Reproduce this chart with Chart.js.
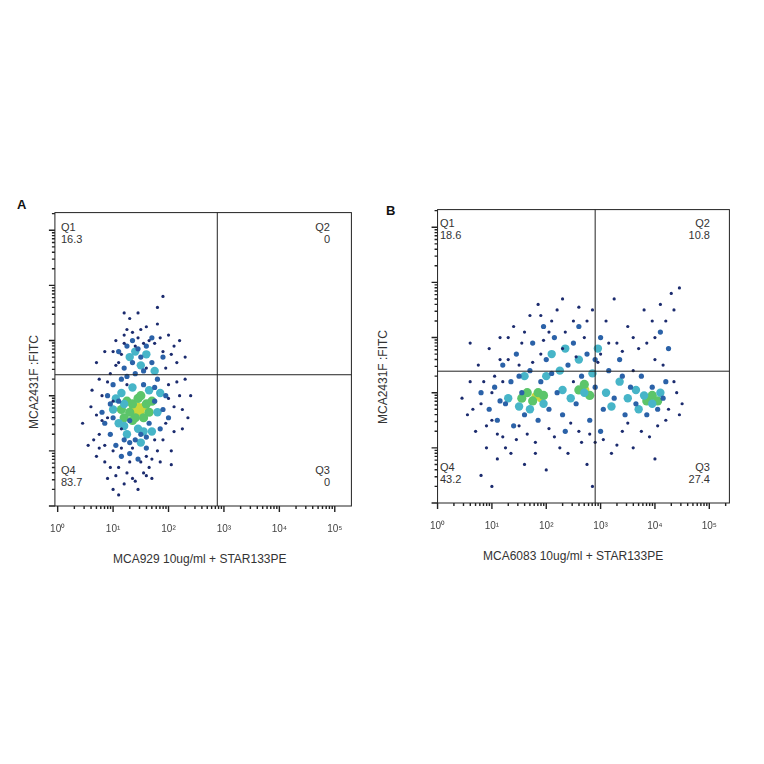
<!DOCTYPE html>
<html>
<head>
<meta charset="utf-8">
<script src="https://cdn.jsdelivr.net/npm/chart.js@4"></script>
<style>
  body { margin: 0; background: #fff; font-family: "Liberation Sans", Arial, sans-serif; color: #333; }
  .box { position: absolute; }
  .t { position: absolute; font-size: 11px; white-space: nowrap; }
  .r { text-align: right; }
</style>
</head>
<body>
<div class="t" style="left:17px;top:197px;font-weight:bold;font-size:13px;color:#111">A</div>
<div class="t" style="left:386px;top:203px;font-weight:bold;font-size:13px;color:#111">B</div>
<div class="t" style="left:-13px;top:375px;transform:rotate(-90deg);font-size:12px">MCA2431F :FITC</div>
<div class="t" style="left:336px;top:370px;transform:rotate(-90deg);font-size:12px">MCA2431F :FITC</div>
<div class="t" style="left:113px;top:552px;font-size:12px">MCA929 10ug/ml + STAR133PE</div>
<div class="t" style="left:483px;top:549px;font-size:12px">MCA6083 10ug/ml + STAR133PE</div>

<div class="t" style="left:61px;top:221px">Q1<br>16.3</div>
<div class="t r" style="left:300px;top:221px;width:30px">Q2<br>0</div>
<div class="t" style="left:61px;top:464px">Q4<br>83.7</div>
<div class="t r" style="left:300px;top:464px;width:30px">Q3<br>0</div>

<div class="t" style="left:440px;top:217px">Q1<br>18.6</div>
<div class="t r" style="left:680px;top:217px;width:30px">Q2<br>10.8</div>
<div class="t" style="left:440px;top:461px">Q4<br>43.2</div>
<div class="t r" style="left:680px;top:461px;width:30px">Q3<br>27.4</div>

<div class="box" style="left:41px;top:208px;width:315px;height:328px"><canvas id="chartA"></canvas></div>
<div class="box" style="left:421px;top:205px;width:313px;height:328px"><canvas id="chartB"></canvas></div>

<script>
const decadeLabels = ['10⁰', '10¹', '10²', '10³', '10⁴', '10⁵'];
const gateA = [2.88, 2.38];
const gateB = [2.9, 2.39];

const aNavy = '0.45,1.5 0.55,1.1 0.6,1.8 0.62,2.1 0.7,0.9 0.75,1.3 0.8,2.0 0.85,2.8 0.9,0.5 0.9,1.6 0.95,2.4 1.0,0.3 1.0,1.0 1.05,3.0 1.1,0.7 1.1,2.6 1.15,1.4 1.2,0.4 1.2,3.1 1.25,2.2 1.3,0.8 1.3,3.4 1.35,0.5 1.4,2.9 1.45,0.3 1.5,3.2 1.55,0.6 1.6,0.9 1.6,2.5 1.65,3.0 1.7,0.5 1.75,1.2 1.8,3.3 1.85,0.8 1.9,2.8 1.95,1.5 2.0,3.1 2.0,2.2 2.05,1.0 2.1,1.8 2.15,2.6 2.2,3.0 2.25,1.4 2.3,2.3 2.4,2.0 1.9,3.8 1.8,3.6 1.2,3.5 0.7,2.6 0.65,1.2 1.0,2.8 1.45,3.5 1.75,2.95 2.1,2.9 0.85,0.8 1.1,0.2 1.35,1.05 1.65,0.7 1.0,1.9 0.8,1.55 2.2,2.0 2.35,1.6 1.55,2.95 1.25,3.2 ' +
  '0.7,1.65 0.75,2.3 0.85,1.1 0.95,0.7 1.05,0.55 1.15,2.75 1.25,0.6 1.35,3.15 1.4,0.45 1.5,0.8 1.6,3.25 1.7,0.85 1.8,1.0 1.9,1.2 1.95,2.5 2.05,2.75 2.1,1.35 2.15,2.25 2.25,1.75 2.3,2.7 1.05,2.55 0.9,2.25 0.75,1.05 1.15,1.05 1.2,2.95 1.45,3.05 1.6,0.55 1.85,3.05 2.0,1.95 2.05,0.75';
const aBlue = '0.8,1.7 0.9,2.0 0.95,1.3 1.0,1.6 1.0,2.2 1.05,1.1 1.1,2.8 1.1,1.9 1.15,0.9 1.2,2.5 1.2,1.2 1.25,2.9 1.3,1.55 1.3,0.95 1.35,2.6 1.4,1.2 1.4,2.4 1.45,0.85 1.5,2.7 1.5,1.3 1.55,2.2 1.6,1.05 1.6,2.9 1.65,1.5 1.7,2.6 1.75,1.9 1.8,2.3 1.85,1.4 1.9,2.7 1.95,2.0 2.0,1.6 1.7,3.05 1.35,3.0 1.45,2.85 1.15,2.3 0.95,1.85 0.85,1.5 1.25,2.35 1.55,2.45 1.75,2.15 1.9,1.75 1.3,1.15 1.6,1.25';
const aCyan = '1.0,1.75 1.1,1.5 1.15,2.05 1.2,1.85 1.25,1.3 1.3,2.7 1.35,2.15 1.4,2.8 1.45,1.4 1.5,2.55 1.55,1.35 1.6,2.75 1.65,2.1 1.7,1.35 1.75,2.45 1.8,1.7 1.85,2.05 1.2,1.45 1.5,1.15 1.05,1.95';
const aGreen = '1.15,1.75 1.2,1.6 1.25,1.9 1.3,1.7 1.35,1.85 1.4,1.6 1.45,1.95 1.55,1.6 1.6,1.85 1.65,1.7 1.7,1.9 1.35,1.55 1.5,2.0';
const aYellow = '1.35,1.75 1.45,1.8 1.5,1.7 1.55,1.8 1.4,1.72';
const aOrange = '1.5,1.78';

const bNavy = '0.45,1.9 0.55,1.6 0.6,2.2 0.7,1.3 0.75,2.5 0.8,1.8 0.9,1.0 0.95,2.8 1.0,1.5 1.05,2.3 1.1,0.8 1.15,3.0 1.2,1.2 1.3,2.6 1.35,0.9 1.4,3.2 1.5,1.4 1.55,2.9 1.6,0.7 1.7,3.4 1.8,1.1 1.85,3.6 1.9,2.7 2.0,0.6 2.05,3.1 2.15,1.2 2.2,3.5 2.3,2.8 2.4,0.9 2.5,3.3 2.6,1.3 2.7,3.0 2.75,0.7 2.85,3.5 2.9,1.1 3.0,2.7 3.1,3.3 3.2,0.9 3.3,2.9 3.4,1.3 3.5,3.2 3.6,1.0 3.7,2.8 3.8,3.5 3.9,1.2 4.0,2.6 4.1,3.6 4.2,1.5 4.3,3.8 4.35,2.2 4.45,3.9 4.5,1.8 4.2,3.3 4.0,3.0 3.6,2.4 2.5,2.2 1.2,2.2 0.8,0.5 2.85,0.3 2.3,3.7 3.25,3.7 0.6,2.9 1.0,0.3 4.4,2.0 4.0,0.8 ' +
  '0.65,1.7 0.85,2.2 0.9,1.4 1.0,2.0 1.1,1.25 1.15,2.6 1.25,1.0 1.3,3.0 1.45,1.15 1.5,2.5 1.6,3.1 1.65,1.25 1.75,2.55 1.8,0.9 1.95,2.95 2.05,1.35 2.1,3.3 2.25,1.0 2.35,3.1 2.45,1.45 2.55,2.65 2.65,1.1 2.75,3.3 2.8,1.25 2.95,2.55 3.05,1.15 3.15,2.9 3.3,1.05 3.4,2.75 3.5,1.45 3.6,3.0 3.75,1.3 3.85,2.9 3.95,3.3 4.05,1.4 4.15,2.5 4.25,1.7 4.35,3.5 4.45,1.6 2.6,3.55 1.9,3.4';
const bBlue = '0.8,2.0 0.95,1.7 1.05,2.1 1.1,1.5 1.2,2.5 1.25,1.8 1.35,2.2 1.4,1.4 1.45,2.7 1.55,2.0 1.6,1.6 1.7,2.4 1.75,2.9 1.85,1.5 1.9,2.2 2.0,2.6 2.05,1.7 2.15,3.0 2.2,2.0 2.3,1.6 2.4,2.5 2.5,2.9 2.55,1.8 2.65,2.3 2.75,2.7 2.8,1.5 2.9,2.1 3.0,3.0 3.05,1.7 3.15,2.4 3.25,1.9 3.35,2.6 3.45,1.6 3.55,2.1 3.65,1.8 3.75,2.3 3.85,1.6 3.95,2.1 4.05,1.7 4.15,1.9 4.25,2.8 4.1,3.1 2.6,3.2 1.95,3.2 2.35,1.3 3.0,1.3 1.15,1.85 1.5,2.3 2.1,2.35 2.9,2.6 3.4,2.3 4.2,2.2';
const bCyan = '1.3,1.9 1.5,1.75 1.6,2.3 1.7,1.7 1.95,1.8 2.0,2.3 2.1,2.7 2.25,2.4 2.35,2.8 2.45,1.9 2.6,2.6 2.7,2.0 2.85,2.35 2.95,2.8 3.1,2.0 3.2,1.75 3.35,2.2 3.5,1.9 3.65,2.05 3.8,1.95 3.95,1.8 4.1,2.0 3.7,1.7 2.3,2.05';
const bGreen = '1.55,1.9 1.65,2.0 1.75,1.85 1.85,2.0 1.95,1.95 2.6,2.05 2.7,2.15 2.8,1.95 3.85,1.85 3.95,1.95 4.05,1.85';
const bYellow = '1.8,1.93 1.9,1.9 2.72,2.05 3.9,1.9';
const bOrange = '1.86,1.93';

const toPts = s => s.split(' ').map(p => { const [x, y] = p.split(',').map(Number); return { x, y }; });

const tiers = [
  { color: '#1b2b6e', r: 1.6 },
  { color: '#2b62a8', r: 2.6 },
  { color: '#47b5c8', r: 4.2 },
  { color: '#5cc56a', r: 4.6 },
  { color: '#c9d63c', r: 4.0 },
  { color: '#e0872b', r: 3.0 }
];

const framePlugin = {
  id: 'frame',
  afterDatasetsDraw(chart, args, opts) {
    const { ctx, chartArea: a, scales: { x, y } } = chart;
    ctx.save();
    ctx.strokeStyle = '#222';
    ctx.lineWidth = 1;
    ctx.strokeRect(a.left, a.top, a.right - a.left, a.bottom - a.top);
    // gate lines
    const gx = x.getPixelForValue(opts.gate[0]);
    const gy = y.getPixelForValue(opts.gate[1]);
    ctx.beginPath();
    ctx.moveTo(gx, a.top); ctx.lineTo(gx, a.bottom);
    ctx.moveTo(a.left, gy); ctx.lineTo(a.right, gy);
    ctx.stroke();
    // log tick marks
    ctx.lineWidth = 1.4;
    ctx.beginPath();
    for (let d = 0; d < 6; d++) {
      for (let k = 1; k < 10; k++) {
        const v = d + Math.log10(k);
        const len = k === 1 ? 6 : 3;
        if (v >= x.min && v <= x.max) {
          const px = x.getPixelForValue(v);
          ctx.moveTo(px, a.bottom); ctx.lineTo(px, a.bottom + len);
        }
        if (v >= y.min && v <= y.max) {
          const py = y.getPixelForValue(v);
          ctx.moveTo(a.left, py); ctx.lineTo(a.left - len, py);
        }
      }
    }
    ctx.stroke();
    ctx.restore();
  }
};

function makePlot(id, sets, gate, xMin, xMax) {
  new Chart(document.getElementById(id), {
    type: 'scatter',
    data: {
      datasets: sets.map((s, i) => ({
        data: toPts(s),
        backgroundColor: tiers[i].color,
        borderWidth: 0,
        pointRadius: tiers[i].r
      }))
    },
    options: {
      animation: false,
      responsive: true,
      maintainAspectRatio: false,
      layout: { padding: { top: 0, right: 1 } },
      plugins: { legend: { display: false }, tooltip: { enabled: false }, frame: { gate } },
      scales: {
        x: {
          type: 'linear', min: xMin, max: xMax,
          afterBuildTicks: s => { s.ticks = [0, 1, 2, 3, 4, 5].map(v => ({ value: v })); },
          afterFit: s => { s.height = 30; },
          grid: { display: false },
          border: { display: false },
          ticks: { padding: 9, color: '#444', font: { size: 10, family: 'Liberation Sans' }, callback: v => decadeLabels[v] }
        },
        y: {
          type: 'linear', min: 0, max: 5.32,
          afterFit: s => { s.width = 12; },
          grid: { display: false },
          border: { display: false },
          ticks: { display: false }
        }
      }
    },
    plugins: [framePlugin]
  });
}

makePlot('chartA', [aNavy, aBlue, aCyan, aGreen, aYellow, aOrange], gateA, -0.05, 5.3);
makePlot('chartB', [bNavy, bBlue, bCyan, bGreen, bYellow, bOrange], gateB, 0, 5.37);
</script>
</body>
</html>
